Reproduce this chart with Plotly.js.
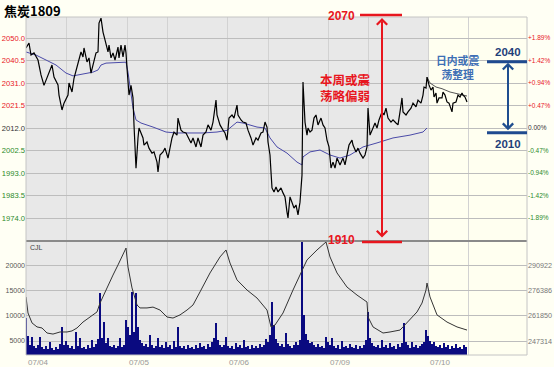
<!DOCTYPE html>
<html><head><meta charset="utf-8">
<script src="https://cdn.plot.ly/plotly-3.0.1.min.js"></script>
<style>html,body{margin:0;padding:0;background:#fffff4;}#chart{width:554px;height:367px;}</style>
</head><body><div id="chart"></div>
<script>
// ---- data (x = bar index; each trading day ~100 bars: night 40 + day 60) ----
const prevClose = 2012.0;
const dayLabels = ['07/04','07/05','07/06','07/09','07/10'];
const dayStarts = [0, 101, 201, 302, 402];
const sessionBounds = [0, 40, 101, 141, 201, 242, 302, 342, 402, 442];

const priceT = [
0,3,5,8,12,15,18,20,23,26,
28,32,33,36,38,42,43,46,48,50,
52,53,55,57,58,61,63,65,67,68,
70,72,73,75,77,79,82,83,85,87,
89,92,93,95,97,99,100,101,102,103,
105,107,108,109,110,112,113,115,117,118,
121,123,126,128,131,132,134,137,139,142,
144,146,148,151,152,155,157,160,162,165,
167,170,172,175,177,180,182,185,187,190,
191,194,197,199,201,203,206,208,211,212,
215,217,220,222,225,227,230,232,235,237,
239,241,242,244,245,246,248,250,252,255,
257,259,261,262,264,266,268,270,272,274,
276,277,279,281,282,284,286,288,290,292,
295,297,299,301,303,305,307,309,311,314,
317,319,321,323,326,327,330,332,334,337,
339,341,342,344,347,349,351,353,356,358,
360,362,365,367,370,372,374,376,377,380,
382,385,387,390,392,395,397,398,400,401,
403,405,407,408,410,411,413,416,417,419,
421,423,426,427,430,432,434,436,437,439,441];
const priceV = [
2045.8,2047.9,2042.8,2043.7,2040.7,2034.4,2030.0,2032.3,2035.6,2038.6,
2033.5,2030.2,2025.9,2019.6,2022.5,2025.9,2031.0,2027.2,2033.0,2036.5,
2039.9,2041.6,2044.1,2042.0,2045.8,2039.9,2041.6,2035.2,2038.6,2041.6,
2043.7,2044.1,2056.3,2058.4,2052.5,2049.2,2044.1,2047.0,2041.6,2043.7,
2040.7,2046.2,2041.6,2047.0,2042.0,2047.0,2043.7,2037.3,2030.2,2025.9,
2030.0,2024.7,2013.3,2003.5,1995.0,2007.8,2012.0,2009.9,2007.8,2004.8,
2006.1,2003.5,2001.4,2001.9,1997.6,1993.4,2000.6,2001.9,2003.5,1999.3,
2004.0,2007.8,2010.3,2009.0,2016.2,2011.1,2010.3,2009.9,2008.2,2005.7,
2007.8,2004.0,2007.8,2004.0,2009.0,2010.3,2013.3,2011.1,2014.5,2023.8,
2017.5,2013.3,2011.1,2009.9,2006.9,2016.2,2017.5,2016.2,2021.7,2017.5,
2015.4,2014.5,2014.1,2011.1,2007.8,2004.8,2007.8,2006.9,2009.9,2010.3,
2014.5,2012.4,2006.1,2000.6,1993.4,1986.7,1985.0,1987.1,1985.0,1986.7,
1984.6,1982.9,1976.5,1974.0,1982.9,1980.7,1978.2,1979.5,1975.3,1980.7,
1992.1,2031.4,2014.5,2009.0,2012.0,2010.3,2011.1,2016.2,2017.5,2013.3,
2016.2,2013.3,2012.0,2006.9,2004.0,1995.1,1997.6,1995.1,1999.3,1996.4,
1999.3,1996.4,2000.6,2004.8,2006.9,2004.8,2001.9,2003.5,2001.4,1999.3,
2000.6,2004.0,2020.4,2009.0,2012.0,2014.1,2012.0,2015.4,2018.8,2017.5,
2020.4,2016.2,2014.5,2015.4,2014.1,2013.3,2018.8,2024.7,2018.8,2017.5,
2018.8,2020.4,2022.5,2020.9,2023.8,2022.5,2025.9,2029.3,2028.9,2033.5,
2030.2,2028.0,2029.3,2025.1,2026.8,2022.5,2024.7,2024.7,2027.2,2025.9,
2023.0,2022.5,2018.8,2022.5,2023.0,2025.9,2025.1,2026.8,2025.9,2025.1,2023.0];

const avgT = [0,10,20,30,40,47,57,67,72,75,80,90,100,102,105,107,110,115,127,140,150,177,191,201,211,217,231,239,244,251,261,271,276,277,284,294,304,314,324,337,351,367,384,397,401];
const avgV = [2044.1,2042.8,2040.7,2038.6,2035.2,2034.0,2034.8,2035.6,2036.5,2038.6,2039.4,2039.6,2039.8,2035.6,2027.2,2020.4,2015.4,2014.1,2012.4,2010.3,2009.9,2009.9,2010.3,2011.0,2014.5,2014.1,2012.4,2012.0,2007.8,2004.0,2001.4,1997.6,1996.4,1999.8,2001.9,2002.7,2000.6,1999.3,2000.6,2004.0,2005.7,2007.8,2009.0,2010.3,2012.0];

const avg2T = [401,404,410,416,424,434,441];
const avg2V = [2033.5,2031.0,2029.3,2028.6,2027.2,2026.3,2025.5];

const volStep = 2;
const volV = [
9500,6000,4200,5800,4000,3600,4300,5800,3800,3500,
4100,3400,4900,3600,3300,3900,3500,4400,7800,4200,
5000,4300,3700,4000,3500,6800,4100,5600,3600,3900,
3400,4200,3600,5200,3800,4500,5400,14500,5600,8700,
4600,5600,4000,3800,4300,3700,4100,5600,3800,4200,
9100,7800,6200,14700,6800,14500,7800,5200,4600,4100,
4500,3900,6100,4200,3700,4000,5600,3800,4300,3600,
4800,3900,4200,3500,5000,3800,7800,4100,3600,4000,
3400,4300,3700,3900,3500,4200,3600,4600,3800,4100,
3500,4400,3900,4800,5600,8500,5200,4300,3800,4200,
5800,4100,3700,4000,3500,4600,3900,4200,3600,5100,
3800,4000,3500,4300,3700,4100,3600,4500,3900,4200,
5400,4800,6200,12700,8100,5300,4600,4100,4400,3900,
6600,4500,4000,3700,4200,4800,4300,5200,25500,10100,
6400,5200,4600,4900,4200,3900,4400,3800,4100,3600,
5800,4800,4300,5500,4000,3700,4200,3500,5000,3800,
4100,3600,4400,3900,3700,4200,3500,4000,3600,4300,
5200,10700,5600,4600,4100,3800,4300,3700,5200,3900,
4200,3600,4700,3800,4000,3500,4400,3900,4600,8500,
4800,4200,3700,4900,3800,4300,3600,4100,4500,4800,
7200,5900,5000,4400,4800,4100,3800,4300,3600,4700,
3900,4200,3500,4000,3700,4500,3600,3900,3400,4200,3800];

const oiT = [0,2,6,11,16,21,27,34,41,46,51,57,64,71,74,81,87,92,97,100,102,106,111,114,121,127,134,141,147,154,161,167,174,184,194,200,204,211,221,231,241,245,249,257,267,274,281,291,300,304,311,321,331,341,342,347,357,364,374,377,384,391,396,400,401,404,411,421,431,441];
const oiV = [272600,263400,257700,255400,254800,251900,251300,252500,252500,253100,254800,258200,261100,264000,269100,278300,285200,291000,296700,300700,289800,277800,268000,266300,266300,266800,265100,261100,260500,262300,265100,268000,275500,286400,295600,299600,292100,282400,276600,272000,265100,255400,256500,263400,276600,285200,293900,299600,304200,295600,286400,278300,273700,269700,261100,255400,251900,252500,253600,255400,259400,264000,269100,276600,280600,272600,262300,258200,255400,253600];

const priceTicks = [1974.0,1983.5,1993.0,2002.5,2012.0,2021.5,2031.0,2040.5,2050.0];
const volTicks = [5000,10000,15000,20000];
const oiTicks = [247314,261850,276386,290922];

// ---- build ----
const RED='#e8161e', GREEN='#2a8a2a', DARK='#333333';
const colorFor = v => v > prevClose ? RED : (v < prevClose ? GREEN : DARK);
const leftText = priceTicks.map(v => `<span style="color:${colorFor(v)}">${v.toFixed(1)}</span>`);
const pctText = priceTicks.map(v => {
  const p = (v - prevClose) / prevClose * 100;
  const s = (p > 0 ? '+' : '') + p.toFixed(2) + '%';
  return `<span style="color:${colorFor(v)}">${s}</span>`;
});
const volT = volV.map((_, i) => i * volStep);

const traces = [
  {type:'bar', x:volT, y:volV, xaxis:'x', yaxis:'y2', width:volStep, marker:{color:'#0a0a80', line:{width:0}}, hoverinfo:'skip'},
  {type:'scatter', mode:'lines', x:oiT, y:oiV, xaxis:'x', yaxis:'y3', line:{color:'#333', width:1}, hoverinfo:'skip'},
  {type:'scatter', mode:'lines', x:avgT, y:avgV, xaxis:'x', yaxis:'y', line:{color:'#4a4aa8', width:1}, hoverinfo:'skip'},
  {type:'scatter', mode:'lines', x:avg2T, y:avg2V, xaxis:'x', yaxis:'y', line:{color:'#555', width:1}, hoverinfo:'skip'},
  {type:'scatter', mode:'lines', x:priceT, y:priceV, xaxis:'x', yaxis:'y', line:{color:'#000', width:1.2}, hoverinfo:'skip'},
  {type:'scatter', mode:'lines', x:[], y:[], xaxis:'x', yaxis:'y4', hoverinfo:'skip'}
];

const splitY = 0.3373;
const pyToPaper = py => (355 - py) / 338;
const tickFont = {family:'Liberation Sans, Arial, sans-serif', size:7.6};

const annotations = [
  {xref:'paper', x:-24/501, yref:'paper', y:pyToPaper(10.5), xanchor:'left', yanchor:'middle', text:'<b>焦炭1809</b>', showarrow:false, font:{family:'Noto Sans CJK SC', size:13, color:'#000'}},
  {xref:'paper', x:0.004, yref:'paper', y:pyToPaper(242), xanchor:'left', yanchor:'top', text:'CJL', showarrow:false, font:{family:'Liberation Sans', size:7, color:'#444'}},
  ...dayLabels.map((d,i) => ({xref:'x', x:dayStarts[i], yref:'paper', y:pyToPaper(356), xanchor:'left', yanchor:'top', text:d, showarrow:false, font:{family:'Liberation Sans', size:8, color:'#999'}})),
  {xref:'x', x:315, yref:'paper', y:pyToPaper(16), text:'<b>2070</b>', showarrow:false, xanchor:'center', yanchor:'middle', font:{family:'Liberation Sans', size:12, color:RED}},
  {xref:'x', x:315, yref:'paper', y:pyToPaper(240), text:'<b>1910</b>', showarrow:false, xanchor:'center', yanchor:'middle', font:{family:'Liberation Sans', size:12, color:RED}},
  {xref:'x', x:319.5, yref:'y', y:2029.3, text:'<b>本周或震<br>荡略偏弱</b>', showarrow:false, align:'center', font:{family:'Noto Sans CJK SC', size:12.5, color:RED}},
  {xref:'x', x:356, yref:'paper', y:pyToPaper(18), ax:0, ay:221, text:'', showarrow:true, arrowhead:4, arrowside:'end+start', arrowsize:1, arrowwidth:2, arrowcolor:RED, standoff:0, startstandoff:0},
  {xref:'x', x:482, yref:'y', y:2044.2, text:'<b>2040</b>', showarrow:false, font:{family:'Liberation Sans', size:11.5, color:'#1f3f7a'}},
  {xref:'x', x:482, yref:'y', y:2005.2, text:'<b>2010</b>', showarrow:false, font:{family:'Liberation Sans', size:11.5, color:'#1f3f7a'}},
  {xref:'x', x:431, yref:'y', y:2037.8, text:'<b>日内或震<br>荡整理</b>', showarrow:false, align:'center', font:{family:'Noto Sans CJK SC', size:10.8, color:'#3e6fb5'}},
  {xref:'x', x:482, yref:'y', y:2039.6, ax:0, ay:69, text:'', showarrow:true, arrowhead:4, arrowside:'end+start', arrowsize:1, arrowwidth:2, arrowcolor:'#1f4e8f', standoff:0, startstandoff:0}
];

const shapes = [
  {type:'rect', layer:'below', xref:'x', x0:0, x1:402, yref:'paper', y0:0, y1:1, fillcolor:'#e8e8e8', line:{width:0}},
  {type:'line', xref:'paper', x0:0, x1:1, yref:'paper', y0:splitY, y1:splitY, line:{color:'#8a8a8a', width:2}},
  {type:'rect', xref:'paper', x0:0, x1:1, yref:'paper', y0:0, y1:1, line:{color:'#c4c4c4', width:1}},
  {type:'line', xref:'x', x0:334, x1:376, yref:'paper', y0:pyToPaper(15), y1:pyToPaper(15), line:{color:RED, width:2.5}},
  {type:'line', xref:'x', x0:336, x1:376, yref:'paper', y0:pyToPaper(242), y1:pyToPaper(242), line:{color:RED, width:2.5}},
  {type:'line', xref:'x', x0:461, x1:501, yref:'y', y0:2040, y1:2040, line:{color:'#1f4a8f', width:3}},
  {type:'line', xref:'x', x0:461, x1:501, yref:'y', y0:2010, y1:2010, line:{color:'#1f4a8f', width:3}}
];

const layout = {
  width:554, height:367,
  margin:{l:26, r:27, t:17, b:12, pad:0},
  paper_bgcolor:'#fffff4', plot_bgcolor:'#fffff0',
  showlegend:false, bargap:0,
  xaxis:{range:[0,501], anchor:'y2', tickvals:sessionBounds, showticklabels:false, ticks:'', showgrid:true, gridcolor:'#d2d2d2', gridwidth:1, zeroline:false, showline:false, fixedrange:true},
  yaxis:{domain:[splitY,1], anchor:'x', range:[1964.29,2058.87], tickvals:priceTicks, ticktext:leftText, ticks:'', tickfont:tickFont, gridcolor:'#bdbdbd', gridwidth:1, zeroline:false, showline:false, fixedrange:true},
  yaxis4:{overlaying:'y', anchor:'x', side:'right', range:[1964.29,2058.87], tickvals:priceTicks, ticktext:pctText, ticks:'', tickfont:{family:'Liberation Sans, Arial, sans-serif', size:6.5}, showgrid:false, zeroline:false, showline:false, fixedrange:true},
  yaxis2:{domain:[0,splitY], anchor:'x', range:[2233,24763], tickvals:volTicks, ticktext:volTicks.map(String), ticks:'', tickfont:{family:'Liberation Sans, Arial, sans-serif', size:7, color:'#555'}, gridcolor:'#bdbdbd', gridwidth:1, zeroline:false, showline:false, fixedrange:true},
  yaxis3:{overlaying:'y2', anchor:'x', side:'right', range:[239271,304764], tickvals:oiTicks, ticktext:oiTicks.map(String), ticks:'', tickfont:{family:'Liberation Sans, Arial, sans-serif', size:7.2, color:'#777'}, showgrid:false, zeroline:false, showline:false, fixedrange:true},
  annotations, shapes
};

Plotly.newPlot('chart', traces, layout, {displayModeBar:false, staticPlot:true});
</script>
</body></html>
